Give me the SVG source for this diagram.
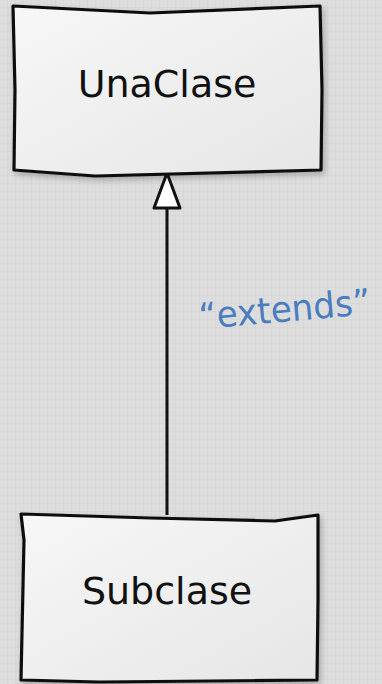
<svg xmlns="http://www.w3.org/2000/svg" width="382" height="684" viewBox="0 0 382 684">
<defs>
<pattern id="grid" width="8" height="8" patternUnits="userSpaceOnUse">
<rect width="8" height="8" fill="#dddddd"/>
<path d="M8 0V8M0 8H8" stroke="#d3d3d3" stroke-width="1"/>
</pattern>
<linearGradient id="boxfill" x1="0" y1="0" x2="1" y2="1">
<stop offset="0" stop-color="#f7f7f7"/>
<stop offset="1" stop-color="#e6e6e6"/>
</linearGradient>
<filter id="sh" x="-10%" y="-10%" width="130%" height="130%">
<feGaussianBlur in="SourceAlpha" stdDeviation="3"/>
<feOffset dx="2" dy="3"/>
<feComponentTransfer><feFuncA type="linear" slope="0.25"/></feComponentTransfer>
<feMerge><feMergeNode/><feMergeNode in="SourceGraphic"/></feMerge>
</filter>
</defs>
<style>
.box{fill:url(#boxfill);stroke:#111;stroke-width:3.2;stroke-linejoin:round}
.lbl{font-family:"Comic Sans MS","DejaVu Sans",sans-serif;font-size:38px;fill:#111;text-anchor:middle}
.conn{stroke:#111;stroke-width:3;fill:none}
.ext{font-family:"Comic Sans MS","DejaVu Sans",sans-serif;font-size:36px;fill:#4a7cbf}
</style>
<rect width="382" height="684" fill="url(#grid)"/>
<g id="connectors">
<line class="conn" x1="167" y1="208" x2="167" y2="515"/>
<polygon points="167,173 154,208 180,208" fill="#fff" stroke="#111" stroke-width="3" stroke-linejoin="round"/>
<text class="ext" x="200" y="329" transform="rotate(-5 200 329)" textLength="172" lengthAdjust="spacingAndGlyphs">“extends”</text>
</g>
<g id="UnaClase">
<path class="box" filter="url(#sh)" d="M13,6 L150,13 L320,6 L322,90 L321,170 L95,176 L14,170 L15,90 Z"/>
<text class="lbl" x="167" y="97">UnaClase</text>
</g>
<g id="Subclase">
<path class="box" filter="url(#sh)" d="M21,514 L150,518 L275,521 L318,515 L318,600 L317,680 L100,682 L21,680 L24,540 Z"/>
<text class="lbl" x="167" y="604">Subclase</text>
</g>
</svg>
